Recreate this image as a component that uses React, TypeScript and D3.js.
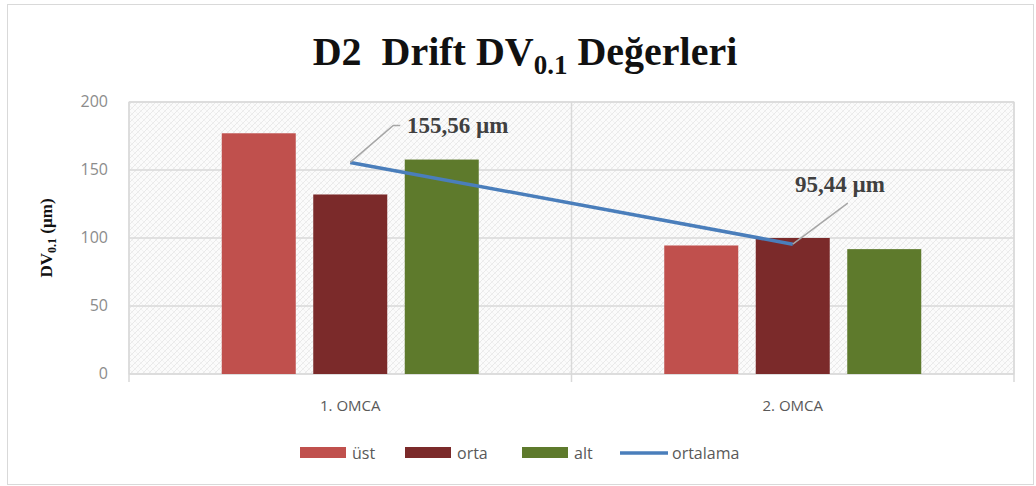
import React from "react";
import * as d3 from "d3";

const categories = ["1. OMCA", "2. OMCA"];
const seriesNames = ["üst", "orta", "alt"];
const seriesColors = ["#c0504d", "#7b2a2a", "#5e7a2c"];
const ust = [177, 94.5];
const orta = [132, 100];
const alt = [157.68, 91.82];
const ortalama = [155.56, 95.44];
const ortalamaLabels = ["155,56 µm", "95,44 µm"];
const yTicks = [0, 50, 100, 150, 200];

const W = 1036;
const H = 486;
const M = { left: 129, right: 1014, top: 102, bottom: 374 };

export default function App() {
  const x = d3.scaleBand<string>().domain(categories).range([M.left, M.right]);
  const y = d3.scaleLinear().domain([0, 200]).range([M.bottom, M.top]);
  const series = [ust, orta, alt];
  const barW = 74;
  const step = 91.5;
  const cx = (c: string) => (x(c) as number) + x.bandwidth() / 2;
  const line = d3
    .line<number>()
    .x((_, i) => cx(categories[i]))
    .y((d) => y(d));

  const labelPos = [
    { lx: 407, ly: 133, path: [[0, 0], [43, -37], [50, -37]] },
    { lx: 795, ly: 192, path: [[0, 0], [55, -41]] },
  ];

  const legendItems = [
    { name: seriesNames[0], color: seriesColors[0], type: "rect", x: 300 },
    { name: seriesNames[1], color: seriesColors[1], type: "rect", x: 405 },
    { name: seriesNames[2], color: seriesColors[2], type: "rect", x: 522 },
    { name: "ortalama", color: "#4a7ebb", type: "line", x: 620 },
  ];

  return (
    <svg width={W} height={H} style={{ position: "absolute", left: 0, top: 0, background: "#fff" }}>
      <defs>
        <pattern id="hatch" width="6" height="6" patternUnits="userSpaceOnUse">
          <rect width="6" height="6" fill="#fbfbfb" />
          <path d="M0,6 L6,0 M-1,1 L1,-1 M5,7 L7,5" stroke="#e4e4e4" strokeWidth="0.8" />
          <path d="M0,0 L6,6 M-1,5 L1,7 M5,-1 L7,1" stroke="#ececec" strokeWidth="0.6" />
        </pattern>
      </defs>
      <rect x={7.5} y={4.5} width={1026} height={480} fill="#fff" stroke="#d9d9d9" strokeWidth={1} />
      <text x={525} y={65} textAnchor="middle" fontFamily="Liberation Serif, Times New Roman, serif" fontWeight="bold" fontSize={40} fill="#111" style={{ whiteSpace: "pre" }}>
        {"D2  Drift DV"}<tspan fontSize={27} dy={9}>0.1</tspan>
        <tspan dy={-9}>{" Değerleri"}</tspan>
      </text>
      <rect x={M.left} y={M.top} width={M.right - M.left} height={M.bottom - M.top} fill="url(#hatch)" stroke="#d9d9d9" />
      {yTicks.map((t) => (
        <g key={t}>
          <line x1={M.left} x2={M.right} y1={y(t)} y2={y(t)} stroke="#d9d9d9" strokeWidth={1.5} />
          <text x={108} y={y(t) + 5} textAnchor="end" fontFamily="Open Sans, sans-serif" fontSize={16} fill="#8c8c8c">
            {t}
          </text>
        </g>
      ))}
      {[M.left, (x(categories[1]) as number), M.right].map((v, i) => (
        <line key={i} x1={v} x2={v} y1={M.top} y2={M.bottom + 8} stroke="#d9d9d9" strokeWidth={1.5} />
      ))}
      {categories.map((c, ci) =>
        series.map((s, si) => {
          const bx = cx(c) + (si - 1) * step - barW / 2;
          return (
            <rect key={c + si} x={bx} y={y(s[ci])} width={barW} height={y(0) - y(s[ci])} fill={seriesColors[si]} />
          );
        })
      )}
      <path d={line(ortalama) as string} fill="none" stroke="#4a7ebb" strokeWidth={3.5} />
      {ortalama.map((v, i) => {
        const px = cx(categories[i]);
        const py = y(v);
        const lp = labelPos[i];
        const pd = lp.path.map((p, k) => `${k ? "L" : "M"}${px + p[0]},${py + p[1]}`).join(" ");
        return (
          <g key={i}>
            <path d={pd} fill="none" stroke="#a6a6a6" strokeWidth={1.5} />
            <text x={lp.lx} y={lp.ly} fontFamily="Liberation Serif, Times New Roman, serif" fontWeight="bold" fontSize={23} fill="#404040">
              {ortalamaLabels[i]}
            </text>
          </g>
        );
      })}
      {categories.map((c) => (
        <text key={c} x={cx(c)} y={411} textAnchor="middle" fontFamily="Open Sans, sans-serif" fontSize={15} fill="#595959">
          {c}
        </text>
      ))}
      <text transform={`translate(52,${(M.top + M.bottom) / 2}) rotate(-90)`} textAnchor="middle" fontFamily="Liberation Serif, Times New Roman, serif" fontWeight="bold" fontSize={17} fill="#111">
        DV<tspan fontSize={12} dy={4}>0.1</tspan>
        <tspan dy={-4}> (µm)</tspan>
      </text>
      {legendItems.map((it) => (
        <g key={it.name}>
          {it.type === "rect" ? (
            <rect x={it.x} y={447} width={46} height={11} fill={it.color} />
          ) : (
            <line x1={it.x} x2={it.x + 48} y1={453} y2={453} stroke={it.color} strokeWidth={3.5} />
          )}
          <text x={it.x + 52} y={459} fontFamily="Open Sans, sans-serif" fontSize={16} fill="#595959">
            {it.name}
          </text>
        </g>
      ))}
    </svg>
  );
}
